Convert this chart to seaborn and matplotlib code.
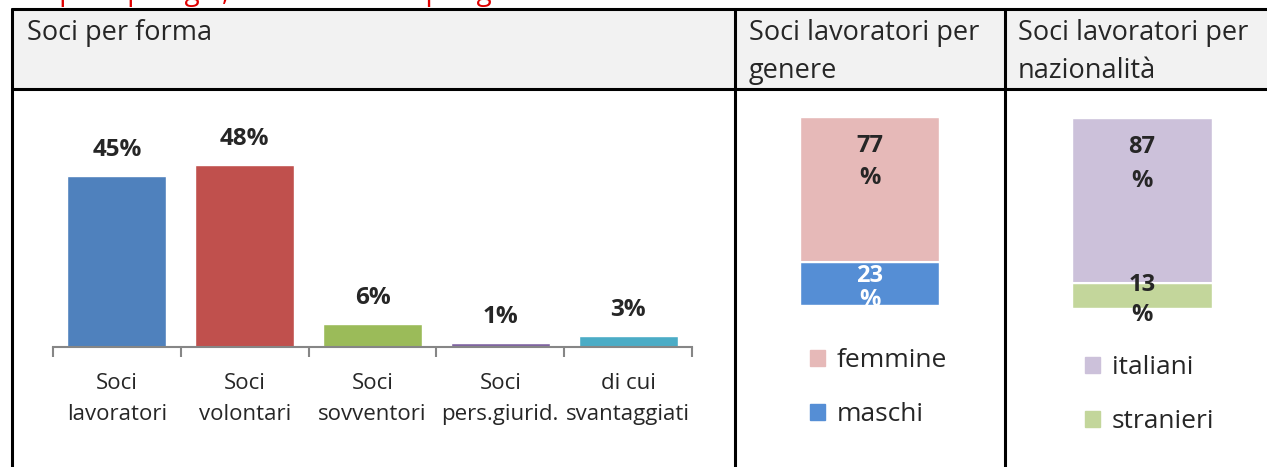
import seaborn as sns
import pandas as pd
import matplotlib.pyplot as plt
from matplotlib.patches import Rectangle, Patch
from matplotlib.lines import Line2D

# DATA
forma_cat = ["Soci\nlavoratori", "Soci\nvolontari", "Soci\nsovventori", "Soci\npers.giurid.", "di cui\nsvantaggiati"]
forma_val = [45, 48, 6, 1, 3]
forma_col = ["#4F81BD", "#C0504D", "#9BBB59", "#8064A2", "#4BACC6"]

genere_cat = ["femmine", "maschi"]
genere_val = [77, 23]
genere_col = ["#E6B9B8", "#558ED5"]

naz_cat = ["italiani", "stranieri"]
naz_val = [87, 13]
naz_col = ["#CCC1DA", "#C3D69B"]

titolo = "Soci per tipologia, soci lavoratori per genere e nazionalità"
headers = ["Soci per forma", "Soci lavoratori per\ngenere", "Soci lavoratori per\nnazionalità"]

sns.set_style("white")
plt.rcParams['font.family'] = ['Open Sans', 'DejaVu Sans']

W, H = 1267, 467
fig = plt.figure(figsize=(W / 100, H / 100), dpi=100)


def fx(px):
    return px / W


def fy(py):
    return 1 - py / H


def axes_px(x0, y0, x1, y1):
    # pixel box (top-left origin) -> figure axes
    return fig.add_axes([fx(x0), fy(y1), fx(x1) - fx(x0), fy(y0) - fy(y1)])


# TABLE
fig.add_artist(Rectangle((fx(12), fy(89)), 1 - fx(12), fy(9) - fy(89),
                         transform=fig.transFigure, facecolor="#F2F2F2", edgecolor="none"))
for y in [9, 89]:
    fig.add_artist(Line2D([fx(12), 1], [fy(y), fy(y)], transform=fig.transFigure, color="black", lw=2.2))
for x in [12, 735, 1005]:
    fig.add_artist(Line2D([fx(x), fx(x)], [fy(9), 0], transform=fig.transFigure, color="black", lw=2.2))

# TITLE (cut at top, as in the source page)
fig.text(fx(0), fy(0), titolo, color="#E00000", fontsize=20, ha="left", va="baseline")

# HEADERS
hs = 19.5
fig.text(fx(27), fy(33), headers[0], fontsize=hs, va="center")
fig.text(fx(749), fy(33), "Soci lavoratori per", fontsize=hs, va="center")
fig.text(fx(749), fy(71), "genere", fontsize=hs, va="center")
fig.text(fx(1018), fy(33), "Soci lavoratori per", fontsize=hs, va="center")
fig.text(fx(1018), fy(71), "nazionalità", fontsize=hs, va="center")

# SOCI PER FORMA
ax1 = axes_px(53, 90, 692, 347)
df1 = pd.DataFrame({"cat": forma_cat, "val": forma_val})
sns.barplot(data=df1, x="cat", y="val", hue="cat", palette=forma_col, width=0.775,
            legend=False, ax=ax1, saturation=1)
for c, v in zip(ax1.containers, forma_val):
    ax1.bar_label(c, labels=[f"{v}%"], padding=10, fontsize=17.5, fontweight="bold")
ax1.set_xlim(-0.5, 4.5)
ax1.set_ylim(0, 257 / 3.8)
ax1.set_xlabel("")
ax1.set_ylabel("")
ax1.set_yticks([])
for s in ["top", "right", "left"]:
    ax1.spines[s].set_visible(False)
ax1.spines["bottom"].set_color("#868686")
ax1.spines["bottom"].set_linewidth(1.5)
ax1.tick_params(axis="x", which="major", length=0, labelsize=16, pad=19)
for t in ax1.get_xticklabels():
    t.set_linespacing(1.6)
ax1.set_xticks([i - 0.5 for i in range(6)], minor=True)
ax1.tick_params(axis="x", which="minor", bottom=True, length=7, width=1.5, color="#868686", direction="out")
ax1.patch.set_alpha(0)


def stacked(ax, cats, vals, cols):
    df = pd.DataFrame({"g": ["x"], "tot": [sum(vals)], "low": [vals[1]]})
    sns.barplot(data=df, x="g", y="tot", color=cols[0], width=1, saturation=1, ax=ax)
    sns.barplot(data=df, x="g", y="low", color=cols[1], width=1, saturation=1, ax=ax)
    ax.axhline(vals[1], color="white", lw=1.5)
    ax.set_xlim(-0.5, 0.5)
    ax.set_ylim(0, 100)
    ax.axis("off")


lab = dict(ha="center", va="center", fontsize=17, fontweight="bold")
leg = dict(loc="upper left", bbox_transform=fig.transFigure, frameon=False, fontsize=19,
           handlelength=0.55, handleheight=0.55, handletextpad=0.45, labelspacing=1.1, borderpad=0)

# GENERE
ax2 = axes_px(800, 117, 939, 305)
stacked(ax2, genere_cat, genere_val, genere_col)
ax2.text(0, 84.5, f"{genere_val[0]}", **lab)
ax2.text(0, 67.5, "%", **lab)
ax2.text(0, 15.4, f"{genere_val[1]}", color="white", clip_on=True, **lab)
ax2.text(0, 2.5, "%", color="white", clip_on=True, **lab)
ax2.legend(handles=[Patch(color=c, label=l) for c, l in zip(genere_col, genere_cat)],
           bbox_to_anchor=(fx(797), fy(335)), **leg)

# NAZIONALITA
ax3 = axes_px(1072, 118, 1212, 308)
stacked(ax3, naz_cat, naz_val, naz_col)
ax3.text(0, 84.7, f"{naz_val[0]}", **lab)
ax3.text(0, 66.8, "%", **lab)
ax3.text(0, 12.1, f"{naz_val[1]}", clip_on=False, **lab)
ax3.text(0, -3.7, "%", clip_on=False, **lab)
ax3.legend(handles=[Patch(color=c, label=l) for c, l in zip(naz_col, naz_cat)],
           bbox_to_anchor=(fx(1072), fy(342)), **leg)

fig.savefig("out.png", dpi=100)
